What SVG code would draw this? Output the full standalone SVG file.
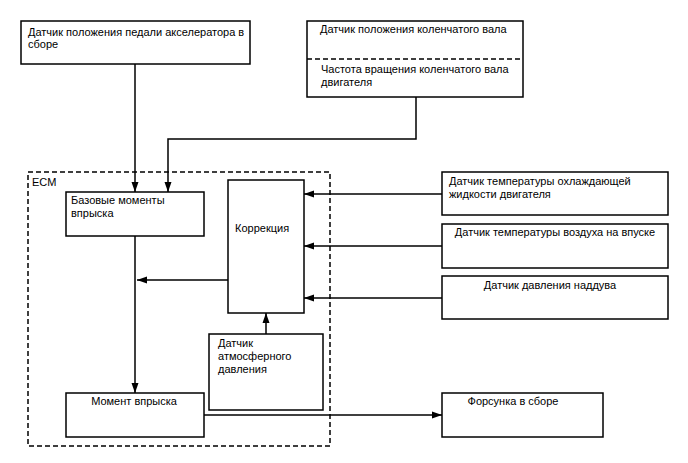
<svg xmlns="http://www.w3.org/2000/svg" width="688" height="463" viewBox="0 0 688 463">
<defs>
<marker id="ah" viewBox="0 0 10 10" refX="10" refY="5" markerWidth="10" markerHeight="10" markerUnits="userSpaceOnUse" orient="auto">
<path d="M0,1.5 L10,5 L0,8.5 Z" fill="#000"/>
</marker>
<style>
.box{fill:#fff;stroke:#000;stroke-width:1.5}
.t{font-family:"Liberation Sans",Arial,sans-serif;font-size:11px;fill:#000}
.c{text-anchor:middle}
.ln{fill:none;stroke:#000;stroke-width:1.5}
.dash{fill:none;stroke:#000;stroke-width:1.5;stroke-dasharray:5,3}
</style>
</defs>
<rect width="688" height="463" fill="#fff"/>
<g id="ecm">
<rect class="dash" x="28" y="172" width="302" height="274"/>
<text class="t" x="32" y="186">ECM</text>
</g>
<g id="connectors">
<path class="ln" d="M135,64 V192" marker-end="url(#ah)"/>
<path class="ln" d="M416,97 V139 H168 V192" marker-end="url(#ah)"/>
<path class="ln" d="M135,236 V393" marker-end="url(#ah)"/>
<path class="ln" d="M228,280 H137" marker-end="url(#ah)"/>
<path class="ln" d="M266,334 V313" marker-end="url(#ah)"/>
<path class="ln" d="M442,194 H304" marker-end="url(#ah)"/>
<path class="ln" d="M442,246 H304" marker-end="url(#ah)"/>
<path class="ln" d="M442,298 H304" marker-end="url(#ah)"/>
<path class="ln" d="M204,415 H442" marker-end="url(#ah)"/>
</g>
<g id="pedal">
<rect class="box" x="21" y="21" width="229" height="43"/>
<text class="t" x="28" y="36">Датчик положения педали акселератора в</text>
<text class="t" x="28" y="48">сборе</text>
</g>
<g id="crank">
<rect class="box" x="307" y="21" width="216" height="76"/>
<line class="dash" x1="307" y1="59" x2="523" y2="59" stroke-width="1" stroke-dasharray="4,3"/>
<text class="t" x="320" y="33">Датчик положения коленчатого вала</text>
<text class="t" x="321" y="73">Частота вращения коленчатого вала</text>
<text class="t" x="321" y="86">двигателя</text>
</g>
<g id="base">
<rect class="box" x="66" y="192" width="138" height="44"/>
<text class="t" x="71" y="204">Базовые моменты</text>
<text class="t" x="71" y="217">впрыска</text>
</g>
<g id="correction">
<rect class="box" x="228" y="180" width="76" height="133"/>
<text class="t" x="235" y="232">Коррекция</text>
</g>
<g id="atm">
<rect class="box" x="209" y="334" width="114" height="76"/>
<text class="t" x="218" y="347">Датчик</text>
<text class="t" x="218" y="360">атмосферного</text>
<text class="t" x="218" y="373">давления</text>
</g>
<g id="moment">
<rect class="box" x="66" y="393" width="138" height="44"/>
<text class="t c" x="134" y="405">Момент впрыска</text>
</g>
<g id="coolant">
<rect class="box" x="442" y="172" width="226" height="43"/>
<text class="t" x="449" y="185">Датчик температуры охлаждающей</text>
<text class="t" x="449" y="198">жидкости двигателя</text>
</g>
<g id="intake">
<rect class="box" x="442" y="224" width="226" height="44"/>
<text class="t c" x="555" y="236">Датчик температуры воздуха на впуске</text>
</g>
<g id="boost">
<rect class="box" x="442" y="276" width="226" height="43"/>
<text class="t c" x="550" y="289">Датчик давления наддува</text>
</g>
<g id="injector">
<rect class="box" x="442" y="393" width="161" height="44"/>
<text class="t c" x="513" y="405">Форсунка в сборе</text>
</g>
</svg>
